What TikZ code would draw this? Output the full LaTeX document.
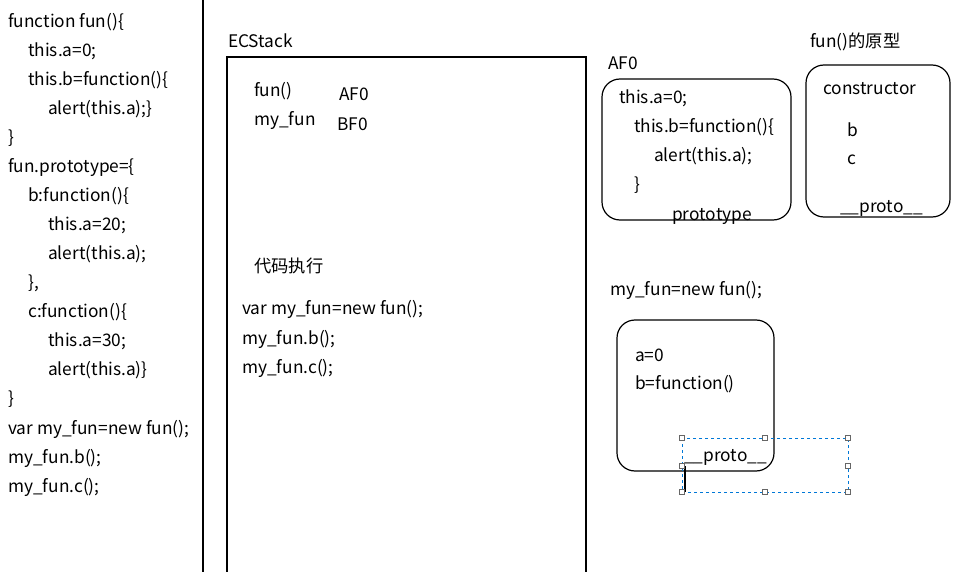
\documentclass[tikz,border=0pt]{standalone}
\usepackage{fontspec}
\setmainfont{Noto Sans CJK SC}
\begin{document}
\begin{tikzpicture}[x=1pt,y=-1pt,
  txt/.style={anchor=west,inner sep=0pt,yshift=-1.5pt,font=\fontsize{17.3}{20}\selectfont},
  rbox/.style={draw,line width=1.2pt,rounded corners=18pt},
  handle/.style={draw=gray!80!black,fill=white,minimum size=5pt,inner sep=0pt,line width=0.8pt}]
\useasboundingbox (0,0) rectangle (967,572);
% left code
\node[txt] (l1) at (8,21) {function fun()\{};
\node[txt] (l2) at (28,50) {this.a=0;};
\node[txt] (l3) at (28,79) {this.b=function()\{};
\node[txt] (l4) at (48,108) {alert(this.a);\}};
\node[txt] (l5) at (8,137) {\}};
\node[txt] (l6) at (8,166) {fun.prototype=\{};
\node[txt] (l7) at (28,195) {b:function()\{};
\node[txt] (l8) at (48,224) {this.a=20;};
\node[txt] (l9) at (48,253) {alert(this.a);};
\node[txt] (l10) at (28,282) {\},};
\node[txt] (l11) at (28,311) {c:function()\{};
\node[txt] (l12) at (48,340) {this.a=30;};
\node[txt] (l13) at (48,369) {alert(this.a)\}};
\node[txt] (l14) at (8,398) {\}};
\node[txt] (l15) at (8,428) {var my\_fun=new fun();};
\node[txt] (l16) at (8,457) {my\_fun.b();};
\node[txt] (l17) at (8,486) {my\_fun.c();};
% divider
\coordinate (dvt) at (203,0);
\coordinate (dvb) at (203,572);
\draw[line width=1.2pt] (dvt) -- (dvb);
% ECStack
\node[txt] (ecs) at (228,39) {ECStack};
\coordinate (e1) at (227,572);
\coordinate (e2) at (227,57);
\coordinate (e3) at (586,57);
\coordinate (e4) at (586,572);
\draw[line width=1.2pt] (e1) -- (e2) -- (e3) -- (e4);
\node[txt] (s1) at (254,90) {fun()};
\node[txt] (s2) at (339,93) {AF0};
\node[txt] (s3) at (254,119) {my\_fun};
\node[txt] (s4) at (337,123) {BF0};
\node[txt] (dm) at (254,264) {代码执行};
\node[txt] (c1) at (242,308) {var my\_fun=new fun();};
\node[txt] (c2) at (242,338) {my\_fun.b();};
\node[txt] (c3) at (242,367) {my\_fun.c();};
% AF0
\node[txt] (aft) at (608,62) {AF0};
\draw[rbox] (602,79) rectangle (791,220);
\node[txt] (a1) at (619,97) {this.a=0;};
\node[txt] (a2) at (634,126) {this.b=function()\{};
\node[txt] (a3) at (654,155) {alert(this.a);};
\node[txt] (a4) at (634,184) {\}};
\node[txt] (a5) at (672,215) {prototype};
% prototype of fun
\node[txt] (pt) at (810,40) {fun()的原型};
\draw[rbox] (806,65) rectangle (950,217);
\node[txt] (p1) at (823,87) {constructor};
\node[txt] (p2) at (847,128) {b};
\node[txt] (p3) at (847,158) {c};
\node[txt] (p4) at (840,207) {\_\_proto\_\_};
% my_fun object
\node[txt] (mt) at (610,289) {my\_fun=new fun();};
\draw[rbox] (617,320) rectangle (774,471);
\node[txt] (m1) at (635,354) {a=0};
\node[txt] (m2) at (635,383) {b=function()};
\node[txt] (m3) at (684,456) {\_\_proto\_\_};
% selection box
\draw[dashed,draw={rgb,255:red,0;green,120;blue,215},line width=0.8pt] (682,438) rectangle (848,492);
\coordinate (cu1) at (685,466);
\coordinate (cu2) at (685,492);
\draw[line width=1.2pt] (cu1) -- (cu2);
\foreach \hx/\hy [count=\i] in {682/438,765/438,848/438,682/466,848/466,682/492,765/492,848/492}
  \node[handle] (h\i) at (\hx,\hy) {};
\end{tikzpicture}
\end{document}
